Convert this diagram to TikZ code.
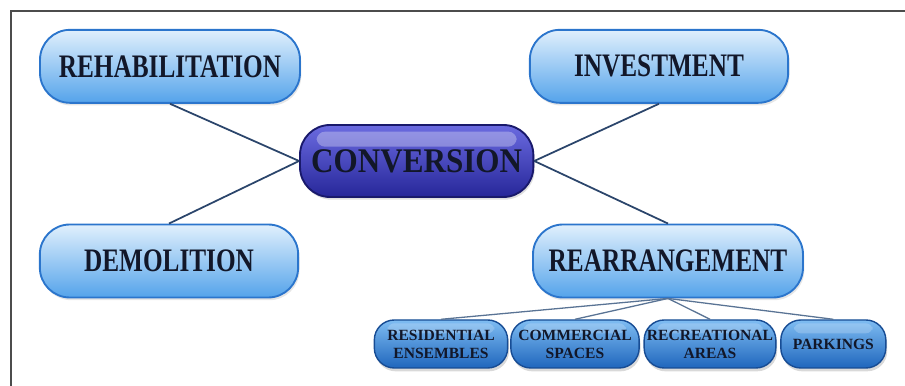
\documentclass[tikz,border=0pt]{standalone}
\usepackage{fontspec}
\newfontfamily\boxfont[FakeStretch=0.77]{Liberation Serif}
\newfontfamily\convfont[FakeStretch=0.9]{Liberation Serif}
\newfontfamily\subfont{Liberation Serif}
\usepackage{xcolor}
\definecolor{mainboxtop}{rgb}{0.88,0.94,0.99}
\definecolor{mainboxmid}{rgb}{0.64,0.81,0.96}
\definecolor{mainboxbot}{rgb}{0.33,0.64,0.92}
\definecolor{mainboxdraw}{rgb}{0.17,0.46,0.80}
\definecolor{convboxtop}{rgb}{0.42,0.42,0.88}
\definecolor{convboxmid}{rgb}{0.24,0.24,0.80}
\definecolor{convboxbot}{rgb}{0.15,0.15,0.60}
\definecolor{convboxdraw}{rgb}{0.10,0.10,0.42}
\definecolor{subboxtop}{rgb}{0.50,0.74,0.95}
\definecolor{subboxmid}{rgb}{0.22,0.54,0.87}
\definecolor{subboxbot}{rgb}{0.12,0.40,0.74}
\definecolor{subboxdraw}{rgb}{0.09,0.30,0.58}
\definecolor{boxtext}{rgb}{0.07,0.09,0.16}
\definecolor{linkdraw}{rgb}{0.17,0.27,0.42}
\definecolor{sublinkdraw}{rgb}{0.35,0.45,0.58}
\definecolor{framedraw}{rgb}{0.30,0.30,0.30}
\usepackage{tikz}
\usetikzlibrary{positioning,shadows}

\begin{document}
\begin{tikzpicture}[
  every node/.style={align=center, inner sep=0pt, text=boxtext},
  mainbox/.style ={rectangle, rounded corners=9mm, draw=mainboxdraw, line width=1.6pt,
                   top color=mainboxtop, middle color=mainboxmid, bottom color=mainboxbot,
                   minimum height=2.19cm, minimum width=7.75cm,
                   drop shadow={opacity=0.2, shadow xshift=0.4mm, shadow yshift=-0.8mm},
                   font=\boxfont\bfseries\fontsize{28}{30}\selectfont},
  convbox/.style ={rectangle, rounded corners=9mm, draw=convboxdraw, line width=1.6pt,
                   top color=convboxtop, middle color=convboxmid, bottom color=convboxbot,
                   minimum height=2.16cm, minimum width=7.0cm,
                   drop shadow={opacity=0.25, shadow xshift=0.4mm, shadow yshift=-0.8mm},
                   path picture={\fill[white, opacity=0.3, rounded corners=2.5mm]
                     ([xshift=5mm, yshift=-2mm]path picture bounding box.north west)
                     rectangle ([xshift=-5mm, yshift=-6.5mm]path picture bounding box.north east);},
                   font=\convfont\bfseries\fontsize{29.5}{31}\selectfont},
  subbox/.style  ={rectangle, rounded corners=6mm, draw=subboxdraw, line width=1.2pt,
                   top color=subboxtop, middle color=subboxmid, bottom color=subboxbot,
                   minimum height=1.44cm,
                   drop shadow={opacity=0.3, shadow xshift=0.4mm, shadow yshift=-1mm},
                   path picture={\fill[white, opacity=0.2, rounded corners=2mm]
                     ([xshift=4mm, yshift=-1mm]path picture bounding box.north west)
                     rectangle ([xshift=-4mm, yshift=-4mm]path picture bounding box.north east);},
                   font=\subfont\bfseries\fontsize{13.3}{15.3}\selectfont},
  link/.style    ={line width=1.5pt, draw=linkdraw},
  sublink/.style ={line width=1.1pt, draw=sublinkdraw}
]
\useasboundingbox (0,0) rectangle (27.15,11.58);
\draw[framedraw, line width=1.6pt] (0.33,-0.2) -- (0.33,11.25) -- (27.4,11.25);

\node[mainbox, minimum width=7.8cm] (rehab)  at ( 5.10, 9.59) {REHABILITATION};
\node[mainbox]                      (invest) at (19.77, 9.59) {INVESTMENT};
\node[convbox]                      (conv)   at (12.50, 6.75) {CONVERSION};
\node[mainbox]                      (demol)  at ( 5.07, 3.75) {DEMOLITION};
\node[mainbox, minimum width=8.1cm] (rearr)  at (20.04, 3.75) {REARRANGEMENT};

\node[subbox, minimum width=4.0cm]  (resid) at (13.23, 1.26) {RESIDENTIAL\\ENSEMBLES};
\node[subbox, minimum width=3.85cm] (comm)  at (17.25, 1.26) {COMMERCIAL\\SPACES};
\node[subbox, minimum width=3.95cm] (recr)  at (21.30, 1.26) {RECREATIONAL\\AREAS};
\node[subbox, minimum width=3.15cm] (park)  at (25.00, 1.26) {PARKINGS};

\draw[link] (rehab.south)  -- (conv.west);
\draw[link] (demol.north)  -- (conv.west);
\draw[link] (invest.south) -- (conv.east);
\draw[link] (rearr.north)  -- (conv.east);

\foreach \sub in {resid,comm,recr,park}
  \draw[sublink] (rearr.south) -- (\sub.north);

\end{tikzpicture}
\end{document}
